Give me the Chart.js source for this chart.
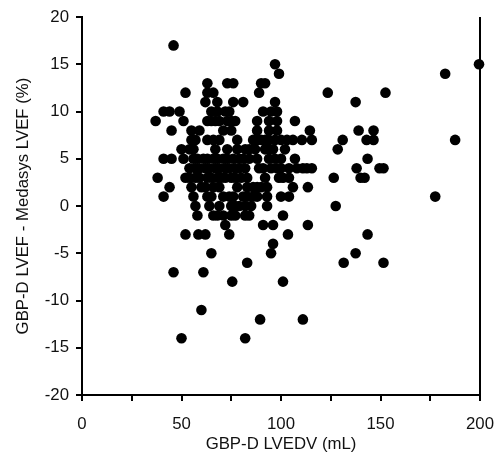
<!DOCTYPE html>
<html>
<head>
<meta charset="utf-8">
<script src="https://cdn.jsdelivr.net/npm/chart.js@4.4.1/dist/chart.umd.min.js"></script>
<style>
  html, body { margin: 0; padding: 0; background: #fff; }
</style>
</head>
<body>
<canvas id="grafico" width="496" height="459"></canvas>
<script>
// Diferencia de LVEF (GBP-D - Medasys), un valor por fila de puntos
const diferencias = [17, 15, 14, 13, 12, 11, 10, 9, 8, 7, 6, 5, 4, 3, 2, 1, 0, -1, -2, -3, -4, -5, -6, -7, -8, -11, -12, -14];

// LVEDV (mL) de cada punto, agrupado por fila (mismo orden que diferencias)
const volumenesPorFila = [
  [46],
  [97, 199.5],
  [99, 182.5],
  [63, 73, 76, 90, 92],
  [52, 63, 66, 89, 123.5, 152.5],
  [62, 68, 76, 81, 97, 137.5],
  [41, 44, 49, 65, 68, 72, 74, 91, 95, 98],
  [37, 51, 63, 65, 67, 69, 73, 75, 77, 88, 94, 98, 107],
  [45, 55, 59, 71, 75, 88, 94, 98, 114.5, 139, 146.5],
  [55, 57, 63, 66, 69, 78, 86, 88, 90, 92, 94, 97, 100, 103, 106, 110.5, 115.5, 131, 143, 146.5, 187.5],
  [50, 54, 56, 67, 73, 78, 82, 84, 87, 92, 94, 96, 102, 128.5],
  [41, 45, 51, 56, 58, 61, 63, 66, 68, 71, 73, 76, 79, 81, 84, 88, 94, 97, 100, 107, 143.5],
  [54, 57, 59, 62, 64, 67, 69, 72, 74, 77, 79, 82, 89, 91, 95, 98, 100, 104, 108, 111, 113, 115.5, 138, 149.5, 151.5],
  [38, 52, 54, 57, 59, 63, 65, 68, 70, 72, 75, 77, 80, 83, 92, 99, 101, 104, 126.5, 140, 142],
  [44, 55, 60, 62, 66, 69, 78, 83, 86, 88, 90, 93, 106, 113.5],
  [41, 56, 63, 65, 71, 74, 76, 81, 83, 86, 88, 93, 100, 104, 177.5],
  [57, 64, 69, 75, 77, 79, 82, 85, 93, 127.5],
  [58, 66, 68, 71, 75, 77, 82, 84, 101],
  [72, 91, 96, 113.5],
  [52, 58.5, 62, 74, 103.5, 143.5],
  [96],
  [65, 95, 137.5],
  [83, 131.5, 151.5],
  [46, 61],
  [75.5, 101],
  [60],
  [89.5, 111],
  [50, 82]
];

const etiquetasX = [0, 50, 100, 150, 200];

const puntos = [];
diferencias.forEach((d, i) => {
  volumenesPorFila[i].forEach(v => puntos.push({ x: v, y: d }));
});

// Linea del marco a la derecha del area
const marcoPlugin = {
  id: 'marco',
  beforeDatasetsDraw(chart) {
    const { ctx, chartArea: a } = chart;
    ctx.save();
    ctx.strokeStyle = '#000';
    ctx.lineWidth = 2;
    ctx.beginPath();
    ctx.moveTo(a.right, a.top);
    ctx.lineTo(a.right, a.bottom);
    ctx.stroke();
    ctx.restore();
  }
};

const fuente = { family: 'Arial, "Liberation Sans", sans-serif', size: 16.8 };

new Chart(document.getElementById('grafico').getContext('2d'), {
  type: 'scatter',
  data: {
    datasets: [{
      data: puntos,
      backgroundColor: '#000',
      borderColor: '#000',
      borderWidth: 0,
      pointRadius: 5.3,
      clip: false
    }]
  },
  options: {
    responsive: false,
    devicePixelRatio: 1,
    animation: false,
    layout: { padding: { top: 15, right: 16, bottom: 0, left: 0 } },
    plugins: { legend: { display: false }, tooltip: { enabled: false } },
    scales: {
      x: {
        type: 'linear',
        min: 0,
        max: 200,
        afterFit(s) {
          s.height = 64;
          // sin margen extra por la etiqueta "200"
          s.paddingLeft = 0;
          s.paddingRight = 0;
        },
        border: { display: true, color: '#000', width: 2 },
        grid: { drawOnChartArea: false, drawTicks: true, tickLength: 6, color: '#000', lineWidth: 2 },
        ticks: {
          stepSize: 25,
          padding: 13,
          color: '#111',
          font: fuente,
          maxRotation: 0,
          autoSkip: false,
          callback: v => etiquetasX.includes(v) ? String(v) : ''
        },
        title: {
          display: true,
          text: 'GBP-D LVEDV (mL)',
          color: '#111',
          font: { family: fuente.family, size: 16.8 },
          padding: { top: 2, bottom: 5 }
        }
      },
      y: {
        type: 'linear',
        min: -20,
        max: 20,
        afterFit(s) { s.width = 82; },
        border: { display: true, color: '#000', width: 2 },
        grid: { drawOnChartArea: false, drawTicks: true, tickLength: 6, color: '#000', lineWidth: 2 },
        ticks: { stepSize: 5, padding: 7, color: '#111', font: fuente },
        title: {
          display: true,
          text: 'GBP-D LVEF - Medasys LVEF (%)',
          color: '#111',
          font: { family: fuente.family, size: 16.8 },
          padding: { top: 13, bottom: 0 }
        }
      }
    }
  },
  plugins: [marcoPlugin]
});
</script>
</body>
</html>
